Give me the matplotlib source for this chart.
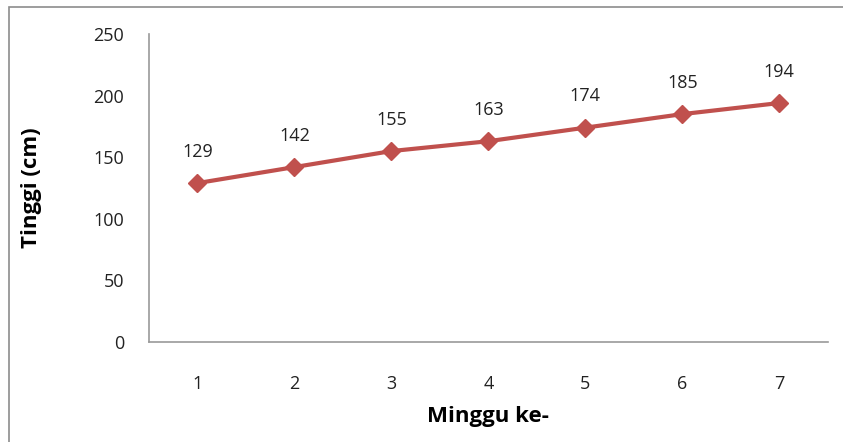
import matplotlib
matplotlib.use("Agg")
import matplotlib.pyplot as plt
from matplotlib.patches import Rectangle

weeks = [1, 2, 3, 4, 5, 6, 7]
heights = [129, 142, 155, 163, 174, 185, 194]
y_ticks = [0, 50, 100, 150, 200, 250]

plt.rcParams['font.family'] = ['Open Sans', 'DejaVu Sans']

fig = plt.figure(figsize=(8.43, 4.42), dpi=100)
ax = fig.add_axes([0.1767, 0.2262, 0.8053, 0.6968])

red = '#C0504D'
ax.plot(weeks, heights, color=red, linewidth=3, marker='D', markersize=9,
        markeredgecolor=red, markerfacecolor=red)

for x, y in zip(weeks, heights):
    ax.annotate(str(y), (x, y), xytext=(0, 16), textcoords='offset points',
                ha='center', va='bottom', fontsize=13, color='#222222')

ax.set_xlim(0.5, 7.5)
ax.set_ylim(0, 250)
ax.set_xticks(weeks)
ax.set_yticks(y_ticks)
ax.tick_params(length=0, labelsize=13, colors='#222222')
ax.tick_params(axis='x', pad=24)
ax.tick_params(axis='y', pad=18)

for side in ['top', 'right']:
    ax.spines[side].set_visible(False)
for side in ['left', 'bottom']:
    ax.spines[side].set_color('#9a9a9a')
    ax.spines[side].set_linewidth(1.2)

ax.set_xlabel('Minggu ke-', fontsize=16, fontweight='bold', labelpad=9)
ax.set_ylabel('Tinggi (cm)', fontsize=16, fontweight='bold', labelpad=37)

fig.patches.append(Rectangle((9 / 843, -0.01), 1.0, 1 - 7 / 442 + 0.01,
                             transform=fig.transFigure, fill=False,
                             edgecolor='#8c8c8c', linewidth=1.2))

fig.savefig('out.png', dpi=100)
